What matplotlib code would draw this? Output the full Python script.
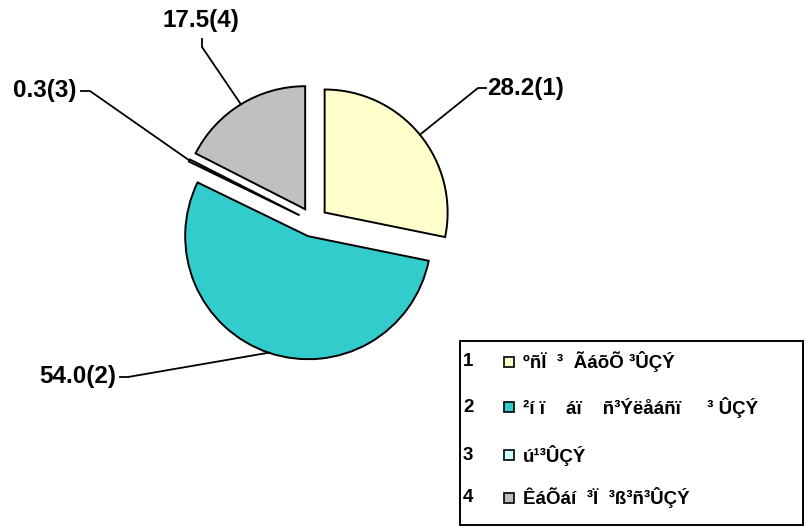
import math

import matplotlib
matplotlib.use("Agg")
import matplotlib.pyplot as plt
from matplotlib.patches import Rectangle

# данные диаграммы
values = [28.2, 54.0, 0.3, 17.5]
numbers = ["1", "2", "3", "4"]
names = ["ºñÏ  ³  ÃáõÕ ³ÛÇÝ", "²í ï    áï    ñ³Ýëåáñï     ³ ÛÇÝ", "ú¹³ÛÇÝ",
         "ÊáÕáí  ³Ï  ³ß³ñ³ÛÇÝ"]
colors = ["#FFFFCC", "#33CCCC", "#CCFFFF", "#C0C0C0"]

W, H = 809, 529

plt.rcParams["font.family"] = ["Liberation Sans", "DejaVu Sans"]
plt.rcParams["font.weight"] = "bold"

fig = plt.figure(figsize=(W / 100, H / 100), dpi=100)
ax = fig.add_axes([0, 0, 1, 1])

# explode в matplotlib задаётся в единицах данных (пиксели здесь)
wedges, _ = ax.pie(values, colors=colors, explode=[15] * 4,
                   startangle=-90, counterclock=True,
                   center=(313, 222), radius=123,
                   wedgeprops=dict(edgecolor="black", linewidth=1.4))
ax.set_xlim(0, W)
ax.set_ylim(H, 0)
ax.set_aspect("equal")
ax.axis("off")

# подписи: излом линии, точка текста, выравнивание
label_pos = [
    ((478, 88), (487, 89), "left"),
    ((128, 377), (116, 377), "right"),
    ((90, 91), (77, 91), "right"),
    ((202, 47), (201, 20), "center"),
]

for w, v, n, (elbow, tpos, ha) in zip(wedges, values, numbers, label_pos):
    mid = math.radians((w.theta1 + w.theta2) / 2)
    sx = w.center[0] + w.r * math.cos(mid)
    sy = w.center[1] + w.r * math.sin(mid)
    if ha == "center":
        ax.plot([sx, elbow[0], elbow[0]], [sy, elbow[1], tpos[1] + 19],
                color="black", lw=1.3)
    else:
        stub = tpos[0] + (4 if ha == "right" else -1)
        ax.plot([sx, elbow[0], stub], [sy, elbow[1], elbow[1]],
                color="black", lw=1.3)
    ax.text(tpos[0], tpos[1], f"{v:.1f}({n})", ha=ha, va="center",
            fontsize=17.5, fontweight="bold")

# легенда
ax.add_patch(Rectangle((460, 341), 343, 184, facecolor="white",
                       edgecolor="black", lw=1.4))
rows_y = [362, 407, 455, 498]
for y, n, name, c in zip(rows_y, numbers, names, colors):
    ax.text(463, y, n, ha="left", va="center", fontsize=13.5,
            fontweight="bold")
    ax.add_patch(Rectangle((504, y - 5), 10, 10, facecolor=c,
                           edgecolor="black", lw=1.2))
    ax.text(523, y, name, ha="left", va="center", fontsize=13.5,
            fontweight="bold")

fig.savefig("out.png", dpi=100)
